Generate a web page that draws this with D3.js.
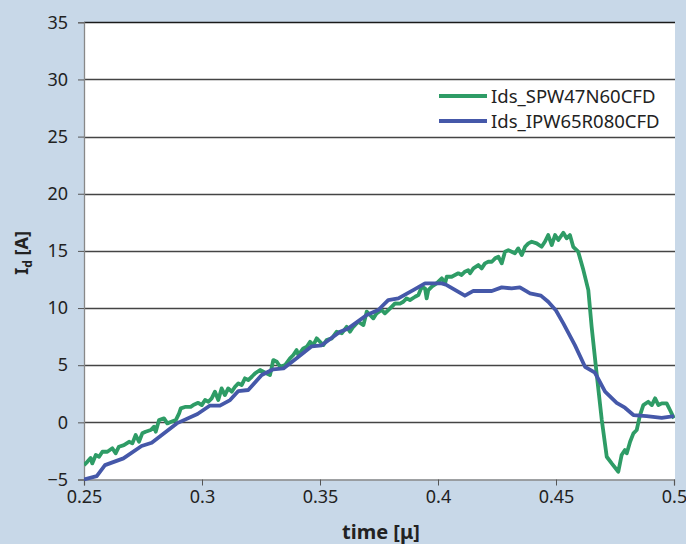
<!DOCTYPE html>
<html>
<head>
<meta charset="utf-8">
<script src="https://cdn.jsdelivr.net/npm/d3@7"></script>
<style>
html,body{margin:0;padding:0;background:#c8d8e8;}
svg{display:block;}
text{font-family:"Noto Sans","Open Sans",sans-serif;}
</style>
</head>
<body>
<svg id="chart" width="686" height="544"></svg>
<script>
// ---- data ----
const seriesNames = ["Ids_SPW47N60CFD", "Ids_IPW65R080CFD"];
const xTicks = [0.25, 0.3, 0.35, 0.4, 0.45, 0.5];
const yTicks = [-5, 0, 5, 10, 15, 20, 25, 30, 35];

const greenTime = [0.25,0.2514,0.2528,0.2535,0.2550,0.2564,0.2578,0.2599,0.2620,0.2634,0.2648,0.2669,0.2691,0.2705,0.2719,0.2733,0.2747,0.2761,0.2783,0.2797,0.2804,0.2818,0.2839,0.2853,0.2870,0.2889,0.2903,0.2910,0.2931,0.2952,
0.2963,0.2984,0.2999,0.3013,0.3027,0.3041,0.3055,0.3069,0.3083,0.3097,0.3111,0.3126,0.3140,0.3154,0.3168,0.3182,0.3196,0.3211,0.3225,0.3246,0.3260,0.3288,0.3296,0.3302,0.3317,0.3331,0.3352,0.3373,0.3387,0.3401,0.3408,
0.3429,0.3444,0.3458,0.3472,0.3486,0.3500,0.3514,0.3528,0.3550,0.3571,0.3592,0.3613,0.3627,0.3641,0.3662,0.3684,0.3698,0.3712,0.3726,0.3740,0.3761,0.3775,0.3797,0.3818,0.3839,
0.3853,0.3867,0.3881,0.3903,0.3917,0.3931,0.3945,0.3952,0.3959,0.3973,0.3994,0.4016,0.4030,0.4037,0.4058,0.4072,0.4086,0.4100,0.4114,0.4128,0.4136,0.4150,0.4171,0.4185,0.4199,0.4213,0.4228,0.4242,0.4256,0.4270,0.4284,0.4298,
0.4312,0.4326,0.4340,0.4355,0.4369,0.4383,0.4397,0.4418,0.4439,0.4453,0.4467,0.4482,0.4496,0.4510,0.4531,0.4545,0.4559,0.4573,0.4594,0.4616,0.4637,0.4651,0.4672,0.4694,0.4715,0.4736,0.4764,0.4778,0.4792,0.4800,0.4814,0.4828,0.4842,0.4856,0.4870,0.4891,0.4906,0.4920,0.4934,0.4948,0.4969,0.4983,0.5];
const greenIds = [-3.74,-3.45,-3.12,-3.59,-2.86,-3.01,-2.57,-2.57,-2.27,-2.71,-2.13,-1.99,-1.70,-1.84,-1.11,-1.70,-0.96,-0.82,-0.67,-0.38,-0.82,0.20,0.35,-0.09,0.05,0.20,0.79,1.22,1.36,1.36,
1.51,1.71,1.51,1.95,1.80,2.10,2.68,1.95,2.97,2.39,2.97,2.68,3.11,3.41,3.26,3.85,3.70,3.99,4.29,4.58,4.43,4.14,4.86,5.45,5.30,4.86,5.01,5.60,5.89,6.33,5.89,
6.47,6.61,7.05,6.76,7.35,7.05,6.76,7.20,7.35,7.93,7.79,8.36,7.93,8.36,8.80,8.51,9.68,9.39,9.10,9.54,9.83,9.54,9.97,10.41,10.39,
10.55,10.85,10.70,10.99,11.14,11.86,11.72,10.85,11.57,11.86,12.16,12.60,12.16,12.74,12.74,12.89,13.04,12.89,13.18,13.32,13.04,13.47,13.76,13.47,13.91,14.05,14.05,14.35,14.49,13.91,14.93,15.07,
14.93,14.79,15.22,14.64,15.36,15.66,15.80,15.66,15.36,15.80,16.39,15.51,16.39,15.95,16.59,16.10,16.39,15.36,14.93,13.32,11.57,8.36,4.29,0.20,-3.01,-3.59,-4.32,-2.86,-2.42,-2.71,-1.70,-0.96,-0.67,0.64,1.51,1.80,1.51,2.10,1.51,1.66,1.66,1.08,0.35];

const blueTime = [0.25,0.2554,0.2589,0.2667,0.2744,0.2787,0.2893,0.2981,0.3034,0.3076,0.3119,0.3154,0.3196,0.3253,0.3302,0.3345,0.3401,0.3465,0.3507,0.3585,0.3620,0.3698,0.3747,0.3789,0.3832,0.3895,0.3945,0.4016,0.4037,0.4114,0.4150,0.4228,0.4270,0.4312,0.4347,0.4390,0.4436,0.4467,0.4500,0.4531,0.4580,0.4623,0.4665,0.4708,0.4757,0.4792,0.4828,0.4884,0.4948,0.5];
const blueIds = [-5.0,-4.70,-3.74,-3.15,-2.07,-1.78,-0.09,0.73,1.47,1.47,1.95,2.74,2.83,4.14,4.64,4.72,5.60,6.65,6.74,7.93,8.22,9.39,9.83,10.70,10.85,11.57,12.16,12.16,12.01,11.08,11.51,11.49,11.81,11.72,11.81,11.29,11.09,10.55,9.78,8.66,6.76,4.86,4.34,2.68,1.71,1.28,0.64,0.55,0.40,0.55];

const seriesColors = ["#2e9c66", "#4558a9"];

// ---- layout ----
const svg = d3.select("#chart");
const pLeft = 84, pRight = 674, pTop = 22.3, pBottom = 479.5;
const x = d3.scaleLinear().domain([0.25, 0.5]).range([pLeft, pRight]);
const y = d3.scaleLinear().domain([-5, 35]).range([pBottom, pTop]);
const fontFam = "'Noto Sans','Open Sans',sans-serif";

// plot background
svg.append("rect").attr("x", pLeft).attr("y", pTop).attr("width", 675 - pLeft).attr("height", pBottom - pTop).attr("fill", "#fff");

// gridlines
svg.append("g").selectAll("line").data(yTicks.filter(d => d > -5)).join("line")
  .attr("x1", pLeft).attr("x2", 675)
  .attr("y1", d => Math.round(y(d)) + 0.5).attr("y2", d => Math.round(y(d)) + 0.5)
  .attr("stroke", d => d === 35 ? "#1a1a1a" : "#444").attr("stroke-width", 1.4);

// y axis
const yAxis = d3.axisLeft(y).tickValues(yTicks).tickSize(6).tickPadding(10).tickFormat(d3.format("d"));
const gy = svg.append("g").attr("transform", `translate(${pLeft},0)`).call(yAxis);
gy.select(".domain").attr("stroke", "#888").attr("stroke-width", 1.3);
gy.selectAll(".tick line").attr("stroke", "#555");
gy.selectAll(".tick text").attr("font-size", 18).attr("fill", "#222").attr("font-family", fontFam);

// x axis
const xAxis = d3.axisBottom(x).tickValues(xTicks).tickSize(6).tickPadding(5).tickFormat(d => String(d));
const gx = svg.append("g").attr("transform", `translate(0,${pBottom})`).call(xAxis);
gx.select(".domain").attr("stroke", "#888").attr("stroke-width", 1.3);
gx.selectAll(".tick line").attr("stroke", "#555");
gx.selectAll(".tick text").attr("font-size", 18).attr("fill", "#222").attr("font-family", fontFam);

// lines
const line = d3.line().x(d => x(d[0])).y(d => y(d[1]));
svg.append("clipPath").attr("id", "clip").append("rect")
  .attr("x", pLeft).attr("y", pTop).attr("width", 675 - pLeft).attr("height", pBottom - pTop + 2);
const greenData = greenTime.map((t, i) => [t, greenIds[i]]);
const blueData = blueTime.map((t, i) => [t, blueIds[i]]);
svg.append("path").datum(greenData).attr("d", line).attr("fill", "none")
  .attr("stroke", seriesColors[0]).attr("stroke-width", 3.8).attr("stroke-linejoin", "round").attr("clip-path", "url(#clip)");
svg.append("path").datum(blueData).attr("d", line).attr("fill", "none")
  .attr("stroke", seriesColors[1]).attr("stroke-width", 3.8).attr("stroke-linejoin", "round").attr("clip-path", "url(#clip)");

// legend
const lg = svg.append("g");
seriesNames.forEach((n, i) => {
  const yy = 96 + i * 25;
  lg.append("line").attr("x1", 439).attr("x2", 487).attr("y1", yy).attr("y2", yy)
    .attr("stroke", seriesColors[i]).attr("stroke-width", 3.8);
  lg.append("text").attr("x", 491).attr("y", yy + 6.5).attr("font-size", 18.5).attr("fill", "#222").text(n);
});

// axis titles
svg.append("text").attr("x", 381).attr("y", 539).attr("text-anchor", "middle")
  .attr("font-size", 20).attr("font-weight", "bold").attr("fill", "#222").text("time [μ]");
const yt = svg.append("text").attr("transform", "translate(28,253) rotate(-90)").attr("text-anchor", "middle")
  .attr("font-size", 18).attr("font-weight", "bold").attr("fill", "#222").attr("font-family", fontFam);
yt.append("tspan").text("I");
yt.append("tspan").attr("font-size", 12).attr("dy", 4).text("d");
yt.append("tspan").attr("dy", -4).text(" [A]");
</script>
</body>
</html>
